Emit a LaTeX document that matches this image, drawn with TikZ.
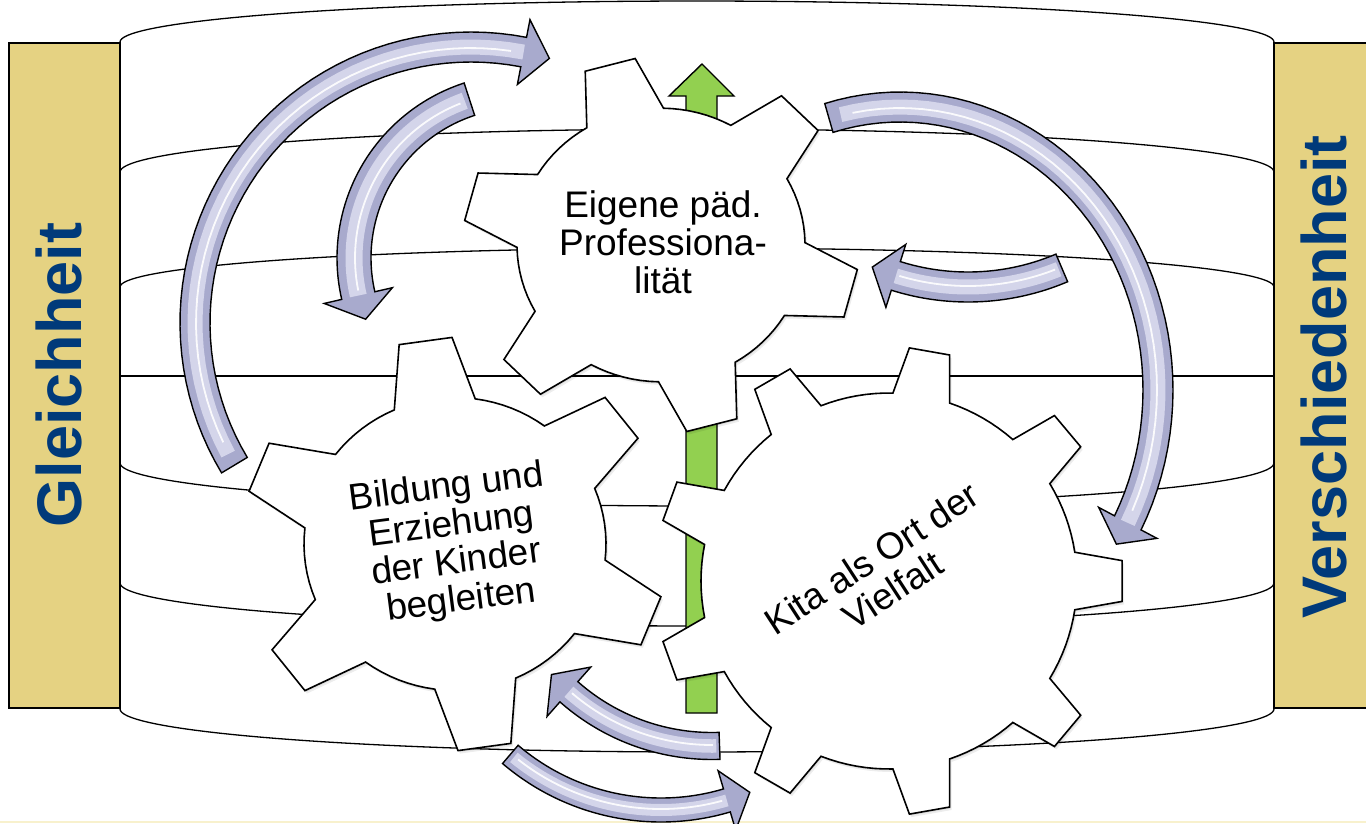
\documentclass[tikz,border=0pt]{standalone}
\usepackage{fontspec}
\setmainfont{Liberation Sans}
\definecolor{barfill}{RGB}{229,210,130}
\definecolor{bartext}{RGB}{0,58,122}
\definecolor{arrfill}{RGB}{168,170,205}
\definecolor{arrsheen}{RGB}{212,213,234}
\definecolor{greenarr}{RGB}{146,208,80}
\definecolor{paleline}{RGB}{248,241,205}
\tikzset{
  bgline/.style={black, line width=1.3pt},
  barbox/.style={draw=black, line width=1.4pt, fill=barfill},
  bartxt/.style={font=\fontsize{63}{70}\selectfont\bfseries, text=bartext, rotate=90, inner sep=0pt},
  gearbox/.style={draw=black, line width=1.6pt, fill=white, line join=miter},
  gearshadow/.style={fill=black, fill opacity=0.07, draw=none},
  geartxt/.style={font=\fontsize{37}{38}\selectfont, align=center, text=black, inner sep=0pt},
  arrbody/.style={draw=black, line width=1.4pt, fill=arrfill, line join=miter},
  greenbox/.style={draw=black, line width=1.4pt, fill=greenarr, line join=miter},
}
% gear outline built from \gN \gO \gT \gR \gbt \gbb
\newcommand{\gearpath}{%
  ({\gO-\gbb}:\gR)
      \foreach \k in {1,...,\gN} {
        -- ({\gO+(\k-1)*360/\gN-\gbt}:\gT)
        -- ({\gO+(\k-1)*360/\gN+\gbt}:\gT)
        -- ({\gO+(\k-1)*360/\gN+\gbb}:\gR)
        \foreach \j in {1,...,8} {
          -- ({\gO+(\k-1)*360/\gN+\gbb+\j*(360/\gN-2*\gbb)/8}:\gR)
        }
      } -- cycle}
% gear: cx cy yscale n offset Rtip Rroot tiphalf basehalf
\newcommand{\drawgear}[9]{%
  \def\gN{#4}\def\gO{#5}\def\gT{#6}\def\gR{#7}\def\gbt{#8}\def\gbb{#9}%
  \begin{scope}[shift={(#1+2,#2+3)}, yscale=#3]
    \path[gearshadow] \gearpath;
  \end{scope}
  \begin{scope}[shift={(#1+1,#2+1.5)}, yscale=#3]
    \path[gearshadow] \gearpath;
  \end{scope}
  \begin{scope}[shift={(#1,#2)}, yscale=#3]
    \filldraw[gearbox] \gearpath;
  \end{scope}}
% curved arrow: cx cy rx ry a1 a2 a3 halfwidth headhalfwidth
\newcommand{\carrow}[9]{%
  \filldraw[arrbody] ({#1+(#3+#8)*cos(#5)},{#2+(#4+#8)*sin(#5)})
    \foreach \j in {1,...,48} {-- ({#1+(#3+#8)*cos(#5+(#6-#5)*\j/48)},{#2+(#4+#8)*sin(#5+(#6-#5)*\j/48)})}
    -- ({#1+(#3+#9)*cos(#6)},{#2+(#4+#9)*sin(#6)})
    -- ({#1+#3*cos(#7)},{#2+#4*sin(#7)})
    -- ({#1+(#3-#9)*cos(#6)},{#2+(#4-#9)*sin(#6)})
    -- ({#1+(#3-#8)*cos(#6)},{#2+(#4-#8)*sin(#6)})
    \foreach \j in {1,...,48} {-- ({#1+(#3-#8)*cos(#6+(#5-#6)*\j/48)},{#2+(#4-#8)*sin(#6+(#5-#6)*\j/48)})}
    -- cycle;
  \draw[arrsheen, line width=#8*1.0pt] ({#1+#3*cos(#5+(#6-#5)*0.02)},{#2+#4*sin(#5+(#6-#5)*0.02)})
    \foreach \j in {1,...,40} {-- ({#1+#3*cos(#5+(#6-#5)*(0.02+0.98*\j/40))},{#2+#4*sin(#5+(#6-#5)*(0.02+0.98*\j/40))})};
  \draw[white, line width=1.8pt, opacity=0.9] ({#1+(#3-1)*cos(#5+(#6-#5)*0.04)},{#2+(#4-1)*sin(#5+(#6-#5)*0.04)})
    \foreach \j in {1,...,40} {-- ({#1+(#3-1)*cos(#5+(#6-#5)*(0.04+0.94*\j/40))},{#2+(#4-1)*sin(#5+(#6-#5)*(0.04+0.94*\j/40))})};
}
\begin{document}
\begin{tikzpicture}[x=1pt, y=-1pt]
  \useasboundingbox (0,0) rectangle (1366,823);
  \clip (0,0) rectangle (1366,823);
  \fill[white] (0,0) rectangle (1366,823);
  % stacked discs
  \foreach \ye/\ry in {42/41, 172/43, 287/39} {
    \draw[bgline] plot[domain=180:360, samples=80] ({697+577*cos(\x)},{\ye+\ry*sin(\x)});
  }
  \draw[bgline] (120,376) -- (1274,376);
  \foreach \ye in {463, 583, 709} {
    \draw[bgline] plot[domain=0:180, samples=80] ({697+577*cos(\x)},{\ye+43*sin(\x)});
  }
  \draw[paleline, line width=1.5pt] (0,822) -- (1366,822);
  % side bars
  \draw[barbox] (9,43) rectangle (120,708);
  \draw[barbox] (1274,43) rectangle (1372,708);
  \node[bartxt] (gleich) at (59,375) {Gleichheit};
  \node[bartxt] (versch) at (1324,377) {Verschiedenheit};
  % green arrow
  \filldraw[greenbox] (686,713) -- (686,96) -- (669,96) -- (702,64) -- (734,96) -- (717,96) -- (717,713) -- cycle;
  % gears
  \drawgear{661}{245}{0.95}{6}{15}{198}{144}{7.5}{16}
  \drawgear{455}{544}{0.97}{6}{22}{213}{151}{7.2}{15.7}
  \drawgear{889}{581}{1}{9}{0}{234}{188}{5}{8.8}
  \node[geartxt] (tgtext) at (663,242) {Eigene päd.\\Professiona-\\lität};
  \node[geartxt, rotate=7.4] (lgtext) at (454,545) {Bildung und\\Erziehung\\der Kinder\\begleiten};
  \node[geartxt, rotate=33] (rgtext) at (882,574) {Kita als Ort der\\Vielfalt};
  % curved arrows
  \carrow{471}{323}{276}{276}{149}{281}{286.5}{15}{33}
  \carrow{521}{258}{167}{167}{252}{167}{158.5}{17}{35}
  \carrow{900}{390}{258}{283}{254}{388}{393}{15}{33}
  \carrow{968}{47}{240}{240}{67}{107.5}{113.5}{15}{33}
  \carrow{712}{530}{216}{216}{88}{131.5}{138}{13.5}{33}
  \carrow{661}{578}{232}{232}{130.5}{73.5}{67.5}{12}{31}
\end{tikzpicture}
\end{document}
